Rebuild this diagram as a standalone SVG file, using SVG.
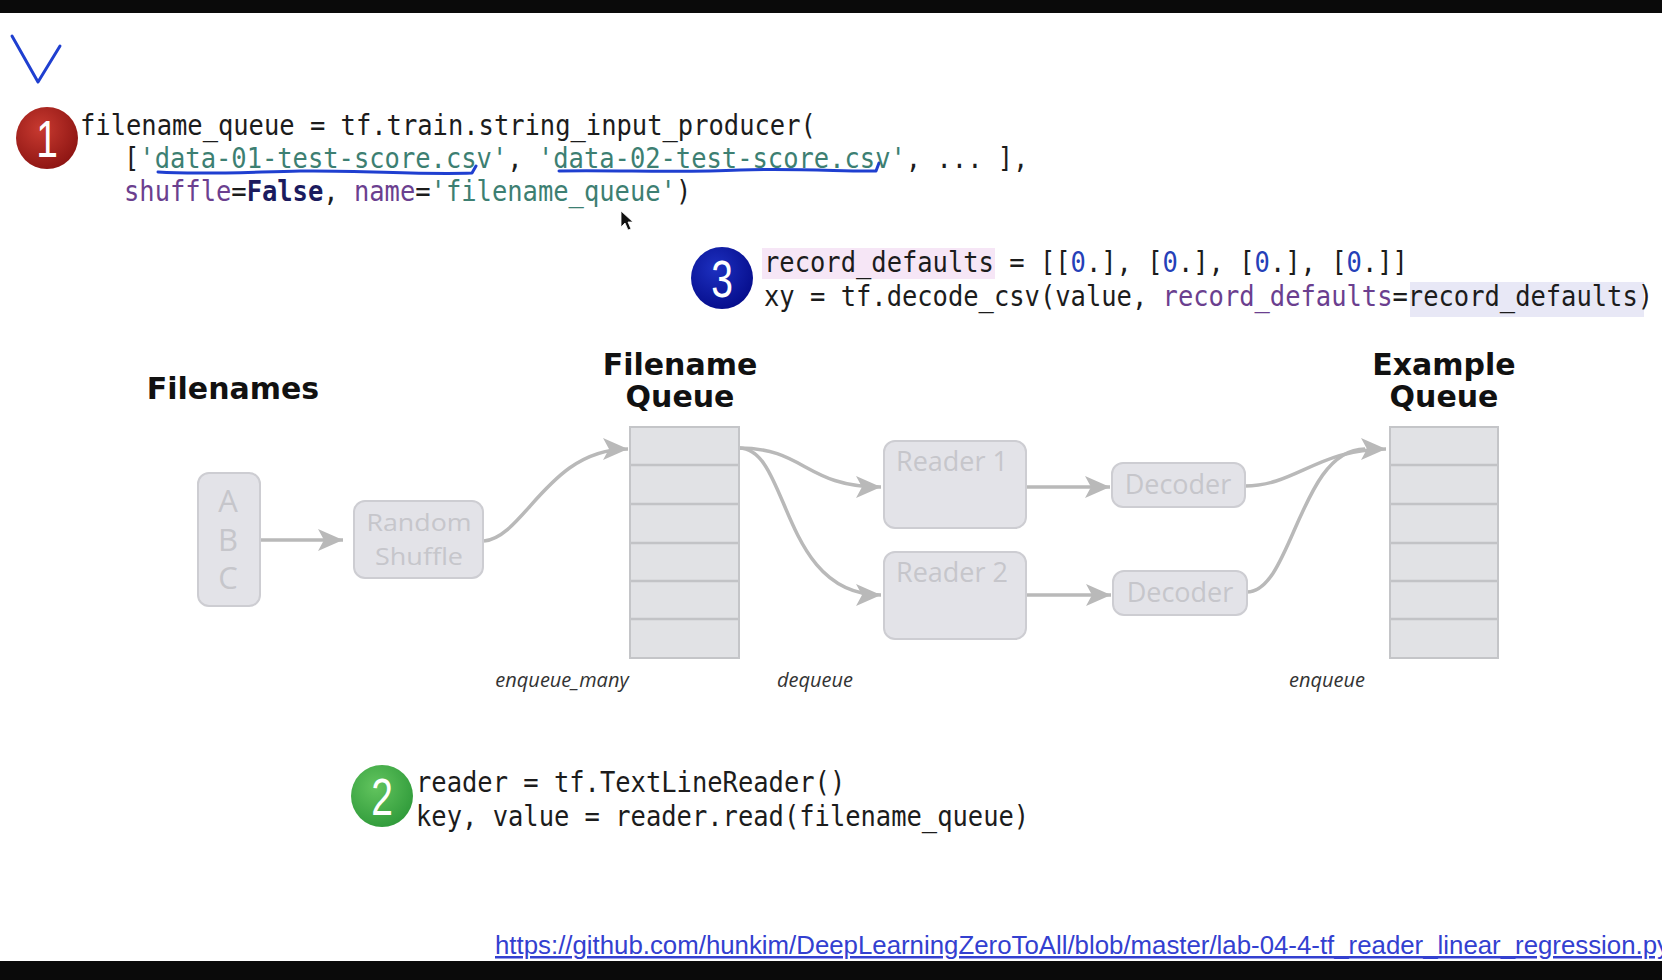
<svg xmlns="http://www.w3.org/2000/svg" width="1662" height="980" viewBox="0 0 1662 980">
<style>
.code{font-family:"DejaVu Sans Mono","Liberation Mono",monospace;font-size:28px;fill:#1c1c1c}
.str{fill:#3d7f72}
.kw{fill:#6b3f8f}
.num{fill:#2540b8}
.bold{font-weight:bold;fill:#1b1b5e}
.head{font-family:"DejaVu Sans",sans-serif;font-weight:bold;font-size:30px;fill:#111;text-anchor:middle}
.lbl{font-family:"Open Sans",sans-serif;font-style:italic;font-size:20px;fill:#333;text-anchor:middle}
.box{fill:#e3e3e8;stroke:#cdcdd2;stroke-width:2}
.btxt{font-family:"Open Sans",sans-serif;font-size:27px;fill:#c6c6cb;text-anchor:middle}
.q{fill:#e1e2e5;stroke:#c4c5c8;stroke-width:2}
.qline{stroke:#c2c3c6;stroke-width:2.5}
.conn{fill:none;stroke:#b9b9b9;stroke-width:3.5}
.ink{fill:none;stroke:#1f3fd0;stroke-width:3;stroke-linecap:round;stroke-linejoin:round}
.digit{font-family:"Liberation Sans",sans-serif;font-size:52px;fill:#fff;text-anchor:middle}
</style>
<defs>
<marker id="ah" markerUnits="userSpaceOnUse" markerWidth="28" markerHeight="24" refX="25" refY="11" orient="auto">
<path d="M0,0 L25,11 L0,22 L6,11 z" fill="#b9b9b9"/>
</marker>
<radialGradient id="gRed" cx="0.4" cy="0.35" r="0.7"><stop offset="0" stop-color="#c83a30"/><stop offset="1" stop-color="#8c1412"/></radialGradient>
<radialGradient id="gBlue" cx="0.4" cy="0.35" r="0.7"><stop offset="0" stop-color="#1d30c0"/><stop offset="1" stop-color="#050c8a"/></radialGradient>
<radialGradient id="gGreen" cx="0.4" cy="0.35" r="0.7"><stop offset="0" stop-color="#62c45e"/><stop offset="1" stop-color="#2f9a3a"/></radialGradient>
</defs>
<rect x="0" y="0" width="1662" height="980" fill="#fff"/>
<rect x="0" y="0" width="1662" height="13" fill="#0a0a0a"/>
<rect x="0" y="961" width="1662" height="19" fill="#0a0a0a"/>

<!-- handwriting -->
<g id="ink">
<path class="ink" d="M12,36 L38,82 L60,46"/>
<path class="ink" d="M158,172 C200,175 250,172 300,171 C360,170 420,175 472,173 L476,166"/>
<path class="ink" d="M559,171 C620,170 680,173 740,170 C800,168 850,172 876,171 L879,163"/>
</g>

<!-- cursor -->
<path d="M621,211 L621,227 L625,223 L628,230 L631,229 L628,222 L633,222 z" fill="#111" stroke="#fff" stroke-width="0.8"/>

<!-- code block 1 -->
<g id="code1">
<circle cx="47" cy="138" r="31" fill="url(#gRed)"/>
<text class="digit" transform="translate(47,157) scale(0.75,1)">1</text>
<text class="code" transform="translate(80,135) scale(0.91,1)">filename_queue = tf.train.string_input_producer(</text>
<text class="code" transform="translate(124,168) scale(0.91,1)">[<tspan class="str">'data-01-test-score.csv'</tspan>, <tspan class="str">'data-02-test-score.csv'</tspan>, ... ],</text>
<text class="code" transform="translate(124,201) scale(0.91,1)"><tspan class="kw">shuffle</tspan>=<tspan class="bold">False</tspan>, <tspan class="kw">name</tspan>=<tspan class="str">'filename_queue'</tspan>)</text>
</g>

<!-- code block 3 -->
<g id="code3">
<circle cx="722" cy="278" r="31" fill="url(#gBlue)"/>
<text class="digit" transform="translate(722,297) scale(0.75,1)">3</text>
<rect x="762" y="248" width="233" height="31" fill="#f6e6f6"/>
<rect x="1410" y="282" width="234" height="35" fill="#e8e8f6"/>
<text class="code" transform="translate(764,272) scale(0.91,1)">record_defaults = [[<tspan class="num">0</tspan>.], [<tspan class="num">0</tspan>.], [<tspan class="num">0</tspan>.], [<tspan class="num">0</tspan>.]]</text>
<text class="code" transform="translate(764,306) scale(0.91,1)">xy = tf.decode_csv(value, <tspan class="kw">record_defaults</tspan>=record_defaults)</text>
</g>

<!-- code block 2 -->
<g id="code2">
<circle cx="382" cy="796" r="31" fill="url(#gGreen)"/>
<text class="digit" transform="translate(382,815) scale(0.75,1)">2</text>
<text class="code" transform="translate(416,792) scale(0.91,1)">reader = tf.TextLineReader()</text>
<text class="code" transform="translate(416,826) scale(0.91,1)">key, value = reader.read(filename_queue)</text>
</g>

<!-- headings -->
<g id="headings">
<text class="head" x="233" y="399">Filenames</text>
<text class="head" x="680" y="375">Filename</text>
<text class="head" x="680" y="407">Queue</text>
<text class="head" x="1444" y="375">Example</text>
<text class="head" x="1444" y="407">Queue</text>
</g>

<!-- connectors -->
<g id="connectors">
<path class="conn" marker-end="url(#ah)" d="M260,540 L343,540"/>
<path class="conn" marker-end="url(#ah)" d="M484,541 C525,537 548,449 628,449"/>
<path class="conn" marker-end="url(#ah)" d="M739,448 C805,448 805,487 881,487"/>
<path class="conn" marker-end="url(#ah)" d="M739,448 C790,448 780,595 881,595"/>
<path class="conn" marker-end="url(#ah)" d="M1026,487 L1110,487"/>
<path class="conn" marker-end="url(#ah)" d="M1026,595 L1111,595"/>
<path class="conn" marker-end="url(#ah)" d="M1245,486 C1295,486 1318,449 1386,449"/>
<path class="conn" d="M1247,592 C1292,592 1300,449 1365,449"/>
</g>

<!-- nodes -->
<g id="filenames">
<rect class="box" x="198" y="473" width="62" height="133" rx="11"/>
<text class="btxt" style="font-size:31px"><tspan x="228" y="512">A</tspan><tspan x="228" y="551">B</tspan><tspan x="228" y="589">C</tspan></text>
</g>
<g id="shuffle">
<rect class="box" x="354" y="501" width="129" height="77" rx="11"/>
<text class="btxt" x="419" y="531" style="font-size:24.5px" textLength="105" lengthAdjust="spacingAndGlyphs">Random</text>
<text class="btxt" x="419" y="565" style="font-size:24.5px" textLength="88" lengthAdjust="spacingAndGlyphs">Shuffle</text>
</g>
<g id="filename-queue">
<rect class="q" x="630" y="427" width="109" height="231"/>
<line class="qline" x1="631" y1="465" x2="738" y2="465"/>
<line class="qline" x1="631" y1="504" x2="738" y2="504"/>
<line class="qline" x1="631" y1="543" x2="738" y2="543"/>
<line class="qline" x1="631" y1="581" x2="738" y2="581"/>
<line class="qline" x1="631" y1="619" x2="738" y2="619"/>
</g>
<g id="reader1">
<rect class="box" x="884" y="441" width="142" height="87" rx="11"/>
<text class="btxt" x="952" y="471">Reader 1</text>
</g>
<g id="reader2">
<rect class="box" x="884" y="552" width="142" height="87" rx="11"/>
<text class="btxt" x="952" y="582">Reader 2</text>
</g>
<g id="decoder1">
<rect class="box" x="1112" y="463" width="133" height="44" rx="11"/>
<text class="btxt" x="1178" y="494">Decoder</text>
</g>
<g id="decoder2">
<rect class="box" x="1113" y="571" width="134" height="44" rx="11"/>
<text class="btxt" x="1180" y="602">Decoder</text>
</g>
<g id="example-queue">
<rect class="q" x="1390" y="427" width="108" height="231"/>
<line class="qline" x1="1391" y1="465" x2="1497" y2="465"/>
<line class="qline" x1="1391" y1="504" x2="1497" y2="504"/>
<line class="qline" x1="1391" y1="543" x2="1497" y2="543"/>
<line class="qline" x1="1391" y1="581" x2="1497" y2="581"/>
<line class="qline" x1="1391" y1="619" x2="1497" y2="619"/>
</g>

<!-- op labels -->
<g id="labels">
<text class="lbl" x="562" y="687">enqueue_many</text>
<text class="lbl" x="815" y="687">dequeue</text>
<text class="lbl" x="1327" y="687">enqueue</text>
</g>

<!-- link -->
<text x="495" y="954" textLength="1175" lengthAdjust="spacingAndGlyphs" style="font-family:'Liberation Sans',sans-serif;font-size:25px;fill:#3340d0;text-decoration:underline">https://github.com/hunkim/DeepLearningZeroToAll/blob/master/lab-04-4-tf_reader_linear_regression.py</text>
</svg>
